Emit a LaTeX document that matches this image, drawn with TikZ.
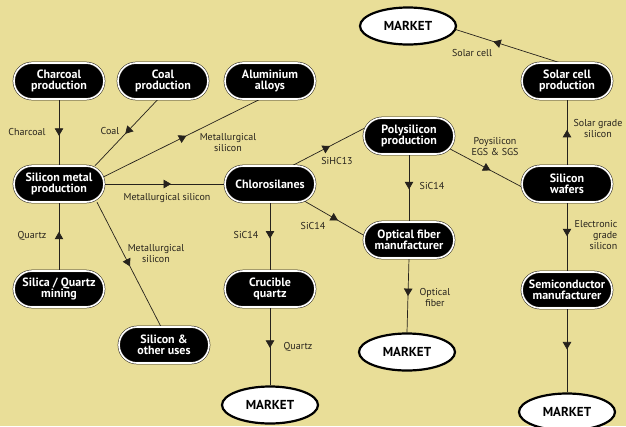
\documentclass[tikz,border=0pt]{standalone}
\usepackage{fontspec}
\setmainfont{PT Sans}
\usetikzlibrary{arrows.meta,decorations.markings,backgrounds,shapes.geometric}

\definecolor{paper}{RGB}{233,222,152}
\definecolor{ink}{RGB}{38,34,28}

\begin{document}
\begin{tikzpicture}[x=1pt,y=-1pt,
  proc/.style={fill=black, draw=ink, double=white, double distance=1.6pt,
    line width=0.5pt, rounded corners=18pt, minimum width=90pt,
    minimum height=36pt, text=white, align=center, inner sep=1pt,
    font=\bfseries\fontsize{12}{11.4}\selectfont},
  market/.style={ellipse, fill=white, draw=black, line width=2.2pt,
    minimum width=96pt, minimum height=37pt, inner sep=0pt,
    font=\bfseries\fontsize{13}{14}\selectfont},
  lbl/.style={text=ink, font=\fontsize{10}{11}\selectfont, align=center,
    inner sep=0pt},
  conn/.style={draw=ink, line width=0.7pt},
  flow/.style={postaction={decorate, decoration={markings,
    mark=at position #1 with {\arrow{Triangle[width=8.5pt,length=7.5pt]}}}}}
]
\useasboundingbox (0,0) rectangle (626,426);

% process boxes
\node[proc] (charcoal) at (59,81)  {Charcoal\\production};
\node[proc] (coal)     at (163,81) {Coal\\production};
\node[proc] (alum)     at (270,81) {Aluminium\\alloys};
\node[proc] (simetal)  at (59,184) {Silicon metal\\production};
\node[proc] (chloro)   at (270,184) {Chlorosilanes};
\node[proc] (poly)     at (409,136) {Polysilicon\\production};
\node[proc] (solar)    at (567,81) {Solar cell\\production};
\node[proc] (wafers)   at (567,184) {Silicon\\wafers};
\node[proc] (silica)   at (59,289) {Silica / Quartz\\mining};
\node[proc] (other)    at (164,345) {Silicon \&\\other uses};
\node[proc] (crucible) at (270,289) {Crucible\\quartz};
\node[proc] (optical)  at (409,240) {Optical fiber\\manufacturer};
\node[proc] (semi)     at (567,290) {Semiconductor\\manufacturer};

% end markets
\node[market] (mtop)    at (408,26)  {MARKET};
\node[market] (mfiber)  at (407,352) {MARKET};
\node[market] (mquartz) at (270,405) {MARKET};
\node[market] (mchip)   at (567,412) {MARKET};

% flow labels
\node[lbl] (l-charcoal)   at (27,132)  {Charcoal};
\node[lbl] (l-coal)       at (110,131) {Coal};
\node[lbl] (l-alum)       at (228,143) {Metallurgical\\silicon};
\node[lbl] (l-chloro)     at (167,198) {Metallurgical silicon};
\node[lbl] (l-quartz)     at (32,236)  {Quartz};
\node[lbl] (l-other)      at (156,254) {Metallurgical\\silicon};
\node[lbl] (l-sihc)       at (337,161) {SiHC13};
\node[lbl] (l-sicpoly)    at (432,186) {SiC14};
\node[lbl] (l-egs)        at (495,147) {Poysilicon\\EGS \& SGS};
\node[lbl] (l-solargrade) at (598,128) {Solar grade\\silicon};
\node[lbl] (l-solarcell)  at (472,53)  {Solar cell};
\node[lbl] (l-siccruc)    at (246,235) {SiC14};
\node[lbl] (l-sicopt)     at (313,226) {SiC14};
\node[lbl] (l-quartz2)    at (298,347) {Quartz};
\node[lbl] (l-fiber)      at (435,297) {Optical\\fiber};
\node[lbl, align=right] (l-egrade) at (596,235) {Electronic\\grade\\silicon};

\begin{pgfonlayer}{background}
  \fill[paper] (0,0) rectangle (626,426);
  % material flows
  \draw[conn, flow=0.55] (charcoal.south) -- (simetal.north);
  \draw[conn, flow=0.52] ([xshift=-5pt]coal.south) -- ([xshift=36pt]simetal.north);
  \draw[conn, flow=0.53] ([xshift=-1pt,yshift=7pt]simetal.east) -- ([xshift=-10pt]alum.south);
  \draw[conn, flow=0.555] (simetal.east) -- (chloro.west);
  \draw[conn, flow=0.57] (silica.north) -- (simetal.south);
  \draw[conn, flow=0.515] ([xshift=38pt]simetal.south) -- ([xshift=-3pt]other.north);
  \draw[conn, flow=0.51] ([xshift=22pt]chloro.north) -- ([xshift=3pt,yshift=9pt]poly.west);
  \draw[conn, flow=0.52] (poly.south) -- (optical.north);
  \draw[conn, flow=0.56] ([xshift=-6pt,yshift=-12pt]poly.east) -- ([xshift=2pt,yshift=-4pt]wafers.west);
  \draw[conn, flow=0.54] (wafers.north) -- (solar.south);
  \draw[conn, flow=0.63] ([xshift=-7pt]solar.north) -- ([xshift=-3pt,yshift=-3pt]mtop.east);
  \draw[conn, flow=0.53] (chloro.south) -- (crucible.north);
  \draw[conn, flow=0.55] ([xshift=33pt,yshift=2pt]chloro.south) -- ([xshift=3pt,yshift=3pt]optical.west);
  \draw[conn, flow=0.52] (crucible.south) -- (mquartz.north);
  \draw[conn, flow=0.51] (optical.south) -- (mfiber.north);
  \draw[conn, flow=0.49] (wafers.south) -- (semi.north);
  \draw[conn, flow=0.49] (semi.south) -- (mchip.north);
\end{pgfonlayer}
\end{tikzpicture}
\end{document}
